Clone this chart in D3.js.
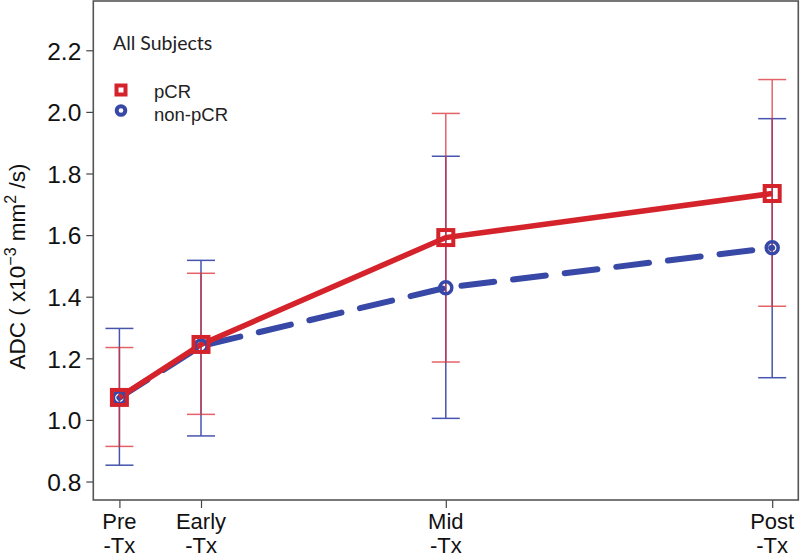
<!DOCTYPE html>
<html>
<head>
<meta charset="utf-8">
<script src="https://cdn.jsdelivr.net/npm/d3@7"></script>
<style>
  html, body { margin: 0; padding: 0; background: #fff; }
  svg { display: block; }
</style>
</head>
<body>
<svg id="chart" width="800" height="559"></svg>
<script>
// ---- data ----
const timepoints = [0, 3, 12, 24];               // weeks
const timeLabels = [["Pre", "-Tx"], ["Early", "-Tx"], ["Mid", "-Tx"], ["Post", "-Tx"]];
const yTicks = [0.8, 1.0, 1.2, 1.4, 1.6, 1.8, 2.0, 2.2];

const pcrMean = [1.073, 1.245, 1.592, 1.735];
const pcrLow  = [0.914, 1.018, 1.188, 1.369];
const pcrHigh = [1.235, 1.476, 1.995, 2.105];

const nonMean = [1.072, 1.240, 1.429, 1.559];
const nonLow  = [0.853, 0.948, 1.005, 1.137];
const nonHigh = [1.297, 1.518, 1.856, 1.978];

const seriesNames = ["pCR", "non-pCR"];
const legendTitle = "All Subjects";

// ---- layout ----
const svg = d3.select("#chart");
const pLeft = 93.3, pRight = 798.3, pTop = 1, pBottom = 500;
const RED = "#d5232c", BLUE = "#3848a6";
const RED_E = "#dc3036", BLUE_E = "#4654ad";

const x = d3.scaleLinear().domain([-0.96, 24.96]).range([pLeft, pRight]);
const y = d3.scaleLinear().domain([0.74, 2.36]).range([pBottom, pTop]);

// y axis
const yAxis = d3.axisLeft(y).tickValues(yTicks).tickFormat(d3.format(".1f")).tickSize(7).tickPadding(5);
const gy = svg.append("g").attr("transform", `translate(${pLeft},0)`).call(yAxis);
gy.select(".domain").remove();
gy.selectAll("line").attr("stroke", "#444").attr("stroke-width", 1.2);
gy.selectAll("text").attr("font-family", "Liberation Sans, Arial, sans-serif").attr("font-size", 24.5).attr("fill", "#111").attr("dy", "0.36em");

// x axis
const xAxis = d3.axisBottom(x).tickValues(timepoints).tickFormat("").tickSize(8);
const gx = svg.append("g").attr("transform", `translate(0,${pBottom})`).call(xAxis);
gx.select(".domain").remove();
gx.selectAll("line").attr("stroke", "#444").attr("stroke-width", 1.2);
timepoints.forEach((t, i) => {
  [0, 1].forEach(k => {
    svg.append("text")
      .attr("x", x(t)).attr("y", k === 0 ? 528.5 : 553)
      .attr("text-anchor", "middle")
      .attr("font-family", "Liberation Sans, Arial, sans-serif")
      .attr("font-size", 22).attr("fill", "#111")
      .text(timeLabels[i][k]);
  });
});

// box
svg.append("rect").attr("x", pLeft).attr("y", pTop).attr("width", pRight - pLeft).attr("height", pBottom - pTop)
  .attr("fill", "none").attr("stroke", "#555").attr("stroke-width", 1.6);

// y label
const yl = svg.append("text")
  .attr("transform", "translate(25,266.5) rotate(-90)")
  .attr("text-anchor", "middle")
  .attr("font-family", "Liberation Sans, Arial, sans-serif")
  .attr("font-size", 22.5).attr("fill", "#111");
yl.append("tspan").text("ADC ( x10");
yl.append("tspan").attr("dy", -9).attr("font-size", 16).text("\u22123");
yl.append("tspan").attr("dy", 9).text(" mm");
yl.append("tspan").attr("dy", -9).attr("font-size", 16).text("2");
yl.append("tspan").attr("dy", 9).text(" /s)");

// error bars
const cap = 14;
function errorBars(low, high, color, opacity) {
  const g = svg.append("g").attr("stroke", color).attr("stroke-width", 1.5).attr("opacity", opacity);
  timepoints.forEach((t, i) => {
    g.append("line").attr("x1", x(t)).attr("x2", x(t)).attr("y1", y(low[i])).attr("y2", y(high[i]));
    g.append("line").attr("x1", x(t) - cap).attr("x2", x(t) + cap).attr("y1", y(low[i])).attr("y2", y(low[i]));
    g.append("line").attr("x1", x(t) - cap).attr("x2", x(t) + cap).attr("y1", y(high[i])).attr("y2", y(high[i]));
  });
}
errorBars(nonLow, nonHigh, BLUE_E, 1);
errorBars(pcrLow, pcrHigh, RED_E, 0.75);

const line = d3.line().x((d, i) => x(timepoints[i])).y(d => y(d));

// non-pCR line (dashed)
svg.append("path").datum(nonMean).attr("d", line)
  .attr("fill", "none").attr("stroke", BLUE).attr("stroke-width", 6)
  .attr("stroke-dasharray", "33,19").attr("stroke-linecap", "round");
// pCR line (solid)
svg.append("path").datum(pcrMean).attr("d", line)
  .attr("fill", "none").attr("stroke", RED).attr("stroke-width", 5.5);

// markers
svg.append("g").selectAll("circle").data(nonMean).join("circle")
  .attr("cx", (d, i) => x(timepoints[i])).attr("cy", d => y(d)).attr("r", 6)
  .attr("fill", "none").attr("stroke", BLUE).attr("stroke-width", 3.5);
svg.append("g").selectAll("rect").data(pcrMean).join("rect")
  .attr("x", (d, i) => x(timepoints[i]) - 7.5).attr("y", d => y(d) - 7.5)
  .attr("width", 15).attr("height", 15)
  .attr("fill", "none").attr("stroke", RED).attr("stroke-width", 4);

// legend
svg.append("text").attr("x", 113).attr("y", 50)
  .attr("font-family", "Lato, 'Open Sans', sans-serif").attr("font-size", 19.5).attr("fill", "#222")
  .text(legendTitle);
svg.append("rect").attr("x", 116.5).attr("y", 85.5).attr("width", 9).attr("height", 9)
  .attr("fill", "#fff").attr("stroke", RED).attr("stroke-width", 4);
svg.append("circle").attr("cx", 121).attr("cy", 110.5).attr("r", 4.3)
  .attr("fill", "#fff").attr("stroke", BLUE).attr("stroke-width", 4);
[["pCR", 97.5], ["non-pCR", 120.5]].forEach(([t, yy], i) => {
  svg.append("text").attr("x", 154).attr("y", yy)
    .attr("font-family", "Liberation Sans, Arial, sans-serif").attr("font-size", 18.5).attr("fill", "#222")
    .text(seriesNames[i]);
});
</script>
</body>
</html>
